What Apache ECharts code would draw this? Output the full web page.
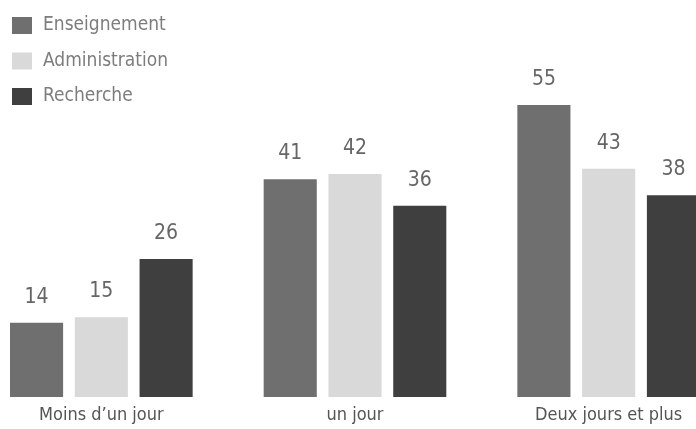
<!DOCTYPE html>
<html><head><meta charset="utf-8">
<script src="https://cdn.jsdelivr.net/npm/echarts@6/dist/echarts.min.js"></script>
<style>html,body{margin:0;padding:0;background:#fff}#c{width:696px;height:429px}</style>
</head><body><div id="c"></div>
<script>
const categories = ["Moins d\u2019un jour", "un jour", "Deux jours et plus"];
const enseignement = [14, 41, 55];
const administration = [15, 42, 43];
const recherche = [26, 36, 38];
const seriesNames = ["Enseignement", "Administration", "Recherche"];
const colors = ["#6f6f6f", "#d9d9d9", "#3f3f3f"];
const FONT = "'DejaVu Sans Condensed', sans-serif";
const chart = echarts.init(document.getElementById('c'));
const mk = (name, data, color) => ({
  name, type: 'bar', data, barGap: '22%', barCategoryGap: '28%',
  itemStyle: {color},
  label: {show: true, position: 'top', distance: 15, color: '#666', fontSize: 21, fontFamily: FONT}
});
chart.setOption({
  animation: false,
  color: colors,
  legend: {
    orient: 'vertical', left: 7, top: 11, itemWidth: 20, itemHeight: 17, itemGap: 16.5,
    icon: 'rect',
    textStyle: {color: '#7d7d7d', fontSize: 19, fontFamily: FONT, padding: [0, 0, 0, 6]},
    data: seriesNames
  },
  grid: {left: -25.5, width: 761, top: 78.4, bottom: 32, containLabel: false, outerBoundsMode: 'none'},
  xAxis: {
    type: 'category', data: categories,
    axisLine: {show: false}, axisTick: {show: false},
    axisLabel: {color: '#555', fontSize: 18, fontFamily: FONT, margin: 9}
  },
  yAxis: {type: 'value', min: 0, max: 60, show: false, splitLine: {show: false}},
  series: [mk(seriesNames[0], enseignement, colors[0]), mk(seriesNames[1], administration, colors[1]), mk(seriesNames[2], recherche, colors[2])]
});
</script></body></html>
